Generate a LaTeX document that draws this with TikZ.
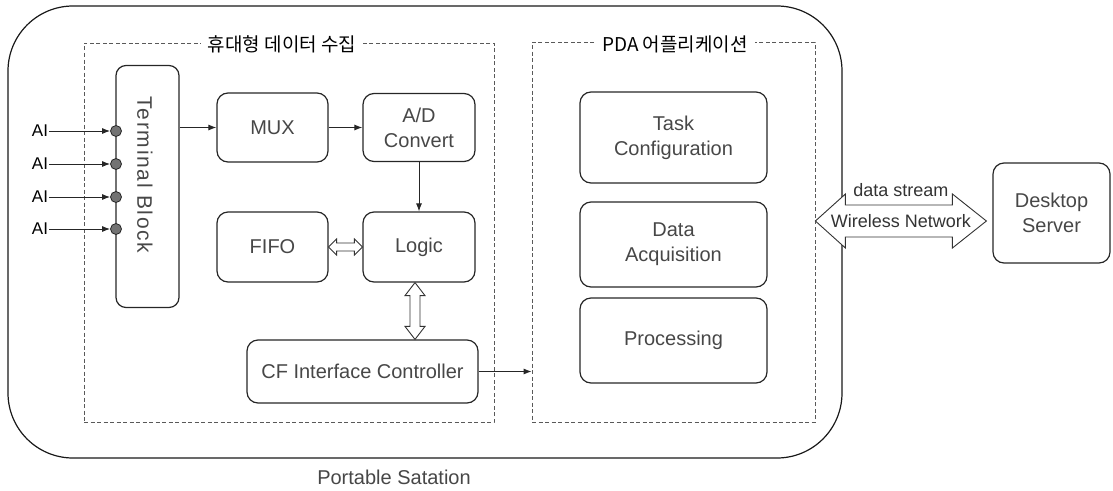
\documentclass[tikz,border=0pt]{standalone}
\usepackage{fontspec}
\setmainfont{Liberation Sans}
\newfontfamily\widesans{Liberation Sans}[LetterSpace=8]
\newfontfamily\kr{Noto Sans CJK KR}
\usetikzlibrary{arrows.meta,calc}
\begin{document}
\begin{tikzpicture}[x=1pt,y=-1pt,
  box/.style={draw=black!85, line width=1.2pt, rounded corners=11pt, align=center, inner sep=0pt,
              font=\fontsize{20}{25}\selectfont, text=black!72},
  lbl/.style={inner sep=0pt, font=\fontsize{20}{25}\selectfont, text=black!72},
  grp/.style={draw=black!65, line width=0.8pt, dash pattern=on 4pt off 2.5pt, inner sep=0pt},
  ttl/.style={fill=white, inner xsep=7pt, inner ysep=2pt, font=\kr\fontsize{19}{22}\selectfont},
  conn/.style={draw=black!85, line width=0.9pt, -{Latex[length=8pt,width=6pt]}},
  hol/.style={draw=black!80, line width=0.9pt, fill=white},
  ai/.style={inner sep=1pt, font=\fontsize{17}{20}\selectfont},
  dot/.style={circle, fill=black!55, draw=black!85, line width=0.8pt, minimum size=11pt, inner sep=0pt},
  net/.style={inner sep=0pt, font=\fontsize{18}{22}\selectfont, text=black!80},
]
\useasboundingbox (0,0) rectangle (1113,490);

% outer portable station
\node[draw=black!90, line width=1.2pt, rounded corners=65pt, minimum width=834, minimum height=452, inner sep=0pt] (outer) at (425,232) {};
\node[lbl] (pst) at (394,477) {Portable Satation};

% group boxes
\node[grp, minimum width=410, minimum height=379] (g1) at (289,232.5) {};
\node[ttl] (g1t) at (282,44) {휴대형 데이터 수집};
\node[grp, minimum width=283, minimum height=380] (g2) at (673.5,232) {};
\node[ttl] (g2t) at (675,44) {PDA 어플리케이션};

% blocks
\node[box, minimum width=63, minimum height=242, rounded corners=10pt] (tb) at (147.5,186.5) {};
\node[lbl, rotate=-90, font=\widesans\fontsize{21}{25}\selectfont] (tbl) at (145,175) {Terminal Block};
\node[box, minimum width=111, minimum height=69] (mux) at (272.5,127.5) {MUX};
\node[box, minimum width=112, minimum height=68] (adc) at (419,127.5) {A/D\\Convert};
\node[box, minimum width=111, minimum height=70] (fifo) at (272.5,247) {FIFO};
\node[box, minimum width=112, minimum height=70] (logic) at (419,247) {Logic};
\node[box, minimum width=231, minimum height=63] (cf) at (362.5,371.5) {CF Interface Controller};

\node[box, minimum width=187, minimum height=91] (task) at (673.5,137.5) {Task\\Configuration};
\node[box, minimum width=187, minimum height=85] (daq) at (673.5,244.5) {Data\\Acquisition};
\node[box, minimum width=187, minimum height=85] (proc) at (673.5,340.5) {Processing};

\node[box, minimum width=117, minimum height=100] (server) at (1051.5,213) {Desktop\\Server};

% analog inputs
\foreach \y [count=\i] in {131,164,197,229} {
  \node[ai] (ai\i) at (40,\y) {AI};
  \node[dot] (d\i) at (116,\y) {};
  \draw[conn] (ai\i.east) -- (d\i.west);
}

% connectors
\draw[conn] (tb.east |- mux.west) -- (mux.west);
\draw[conn] (mux.east) -- (adc.west);
\draw[conn] (adc.south) -- (logic.north);
\draw[conn] (cf.east) -- (cf.east -| g2.west);

% FIFO <-> Logic hollow double arrow
\draw[hol] (fifo.east) -- ($(fifo.east)+(8,-8)$) -- ($(fifo.east)+(8,-4)$)
  -- ($(logic.west)+(-8,-4)$) -- ($(logic.west)+(-8,-8)$) -- (logic.west)
  -- ($(logic.west)+(-8,8)$) -- ($(logic.west)+(-8,4)$)
  -- ($(fifo.east)+(8,4)$) -- ($(fifo.east)+(8,8)$) -- cycle;

% Logic <-> CF hollow double arrow
\coordinate (la) at ($(logic.south)+(-4,0)$);
\coordinate (lb) at (la |- cf.north);
\draw[hol] (la) -- ($(la)+(-10,13)$) -- ($(la)+(-5,13)$) -- ($(lb)+(-5,-13)$)
  -- ($(lb)+(-10,-13)$) -- (lb) -- ($(lb)+(10,-13)$) -- ($(lb)+(5,-13)$)
  -- ($(la)+(5,13)$) -- ($(la)+(10,13)$) -- cycle;

% wireless network double arrow
\coordinate (wa) at ($(g2.east |- server.west)+(0,8)$);
\coordinate (wb) at ($(server.west)+(-6,8)$);
\draw[hol] (wa) -- ($(wa)+(30,-27)$) -- ($(wa)+(30,-16)$) -- ($(wb)+(-34,-16)$)
  -- ($(wb)+(-34,-27)$) -- (wb) -- ($(wb)+(-34,27)$) -- ($(wb)+(-34,16)$)
  -- ($(wa)+(30,16)$) -- ($(wa)+(30,27)$) -- cycle;
\node[net] (wn) at ($(wa)!0.5!(wb)$) {Wireless Network};
\node[net] (ds) at ($($(wa)!0.5!(wb)$)+(0,-31)$) {data stream};
\end{tikzpicture}
\end{document}
